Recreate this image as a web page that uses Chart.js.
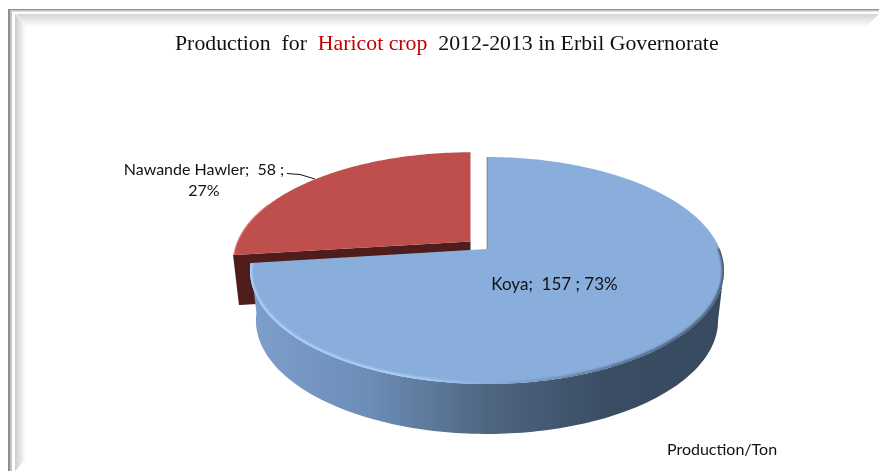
<!DOCTYPE html>
<html>
<head>
<meta charset="utf-8">
<style>
  html, body { margin: 0; padding: 0; background: #ffffff; overflow: hidden; }
  canvas { display: block; }
</style>
</head>
<body>
<canvas id="pie" width="879" height="471"></canvas>
<script src="https://cdn.jsdelivr.net/npm/chart.js@4"></script>
<script>
const categories = ['Koya', 'Nawande Hawler'];
const production = [157, 58];
const percents = ['73%', '27%'];
const titleParts = [
    ['Production  for  ', '#111111'],
    ['Haricot crop', '#c00000'],
    ['  2012-2013 in Erbil Governorate', '#111111']
];
const unitLabel = 'Production/Ton';

// perspective of the tilted pie, fitted to the picture
const view = { x: 487, y: 249, a: 109.4, b: 232.7, k: 0.1894, depth: 50, shrink: 0.975 };
const explode = [
    { dx: 0, dy: 0, sy: 1 },
    { dx: -16.5, dy: -7.5, sy: 0.97 }
];

function project(angle, i, bottom) {
    const e = explode[i];
    const u = Math.cos(angle);
    const v = Math.sin(angle);
    const d = 1 - view.k * v;
    const s = bottom ? view.shrink : 1;
    return {
        x: view.x + e.dx + s * view.b * u / d,
        y: view.y + e.dy + e.sy * view.a * v / d + (bottom ? view.depth : 0)
    };
}

function apex(i, bottom) {
    const e = explode[i];
    return { x: view.x + e.dx, y: view.y + e.dy + (bottom ? view.depth : 0) };
}

function arcPoints(start, end, i, bottom) {
    const pts = [];
    const n = Math.ceil(Math.abs(end - start) / 0.02);
    for (let j = 0; j <= n; j++) {
        pts.push(project(start + (end - start) * j / n, i, bottom));
    }
    return pts;
}

function tracePoly(ctx, pts) {
    ctx.beginPath();
    pts.forEach((p, j) => j ? ctx.lineTo(p.x, p.y) : ctx.moveTo(p.x, p.y));
}

function fillPoly(ctx, pts, fill) {
    tracePoly(ctx, pts);
    ctx.closePath();
    ctx.fillStyle = fill;
    ctx.fill();
}

function strokeLine(ctx, pts, style, width) {
    tracePoly(ctx, pts);
    ctx.strokeStyle = style;
    ctx.lineWidth = width;
    ctx.stroke();
}

function drawFrame(ctx) {
    ctx.fillStyle = '#8e8e8e';
    ctx.fillRect(8, 9, 871, 1.5);
    ctx.fillRect(8, 9, 2.5, 462);
    ctx.fillStyle = '#c4c4c4';
    ctx.fillRect(10.5, 10.5, 1.5, 460.5);
    ctx.fillRect(10.5, 10.5, 868.5, 1);

    const top = ctx.createLinearGradient(0, 14, 0, 27);
    top.addColorStop(0, '#d4d4d4');
    top.addColorStop(1, '#ffffff');
    fillPoly(ctx, [{ x: 16, y: 14 }, { x: 879, y: 14 }, { x: 866, y: 27 }, { x: 26, y: 27 }], top);

    const left = ctx.createLinearGradient(15, 0, 26, 0);
    left.addColorStop(0, '#cccccc');
    left.addColorStop(1, '#ffffff');
    fillPoly(ctx, [{ x: 15, y: 14 }, { x: 26, y: 26 }, { x: 26, y: 459 }, { x: 15, y: 471 }], left);
}

function drawPie(chart) {
    const ctx = chart.ctx;
    const arcs = chart.getDatasetMeta(0).data;
    const koya = arcs[0];
    const hawler = arcs[1];

    // red slice: cut wall first, then its top
    const redCorner = project(hawler.startAngle, 1, false);
    const redCornerLow = project(hawler.startAngle, 1, true);
    const dark = '#4f1d1c';
    ctx.save();
    ctx.lineJoin = 'round';
    fillPoly(ctx, [apex(1), redCorner, redCornerLow, apex(1, true)], dark);
    strokeLine(ctx, [redCorner, redCornerLow], dark, 2);
    ctx.restore();
    fillPoly(ctx, [apex(1)].concat(arcPoints(hawler.startAngle, hawler.endAngle, 1, false)), '#be4f4c');
    strokeLine(ctx, arcPoints(hawler.startAngle, hawler.startAngle + 0.5, 1, false), 'rgba(226,110,105,0.7)', 1.5);

    // blue slice: outer wall seen from the front
    const wallFrom = Math.asin(view.k);
    const wallTo = koya.endAngle;
    const wall = arcPoints(wallFrom, wallTo, 0, false).concat(arcPoints(wallTo, wallFrom, 0, true));
    const side = ctx.createLinearGradient(252, 0, 722, 0);
    side.addColorStop(0, '#7d9fcb');
    side.addColorStop(0.25, '#6c8db6');
    side.addColorStop(0.5, '#4f6682');
    side.addColorStop(0.75, '#3a4d63');
    side.addColorStop(1, '#384a5f');
    fillPoly(ctx, wall, side);

    // blue top
    const topFace = [apex(0)].concat(arcPoints(koya.startAngle, koya.endAngle, 0, false));
    fillPoly(ctx, topFace, '#8aaedc');

    // rim light along the front edge, kept inside the top face
    const rim = ctx.createLinearGradient(252, 0, 722, 0);
    rim.addColorStop(0, '#b0d6ff');
    rim.addColorStop(0.35, '#acd2fb');
    rim.addColorStop(0.5, '#8aaedc');
    rim.addColorStop(0.8, '#4e6986');
    rim.addColorStop(1, '#3f5369');
    ctx.save();
    tracePoly(ctx, topFace);
    ctx.closePath();
    ctx.clip();
    ctx.filter = 'blur(1px)';
    strokeLine(ctx, arcPoints(wallFrom - 0.2, wallTo, 0, false), rim, 4);
    ctx.restore();

    // thin shade on the cut next to the gap
    strokeLine(ctx, [project(koya.startAngle, 0, false), apex(0)], 'rgba(70,80,95,0.55)', 1);
}

function drawTexts(chart) {
    const ctx = chart.ctx;
    ctx.save();
    ctx.textBaseline = 'alphabetic';

    ctx.font = '21.8px "Liberation Serif"';
    let x = 175;
    titleParts.forEach(part => {
        ctx.fillStyle = part[1];
        ctx.fillText(part[0], x, 50);
        x += ctx.measureText(part[0]).width;
    });

    ctx.fillStyle = '#111111';
    ctx.font = '17px Lato';
    ctx.textAlign = 'center';
    ctx.fillText(categories[0] + ';  ' + production[0] + ' ; ' + percents[0], 554.5, 290);

    ctx.font = '16px Lato';
    ctx.fillText(categories[1] + ';  ' + production[1] + ' ;', 204, 175);
    ctx.fillText(percents[1], 204, 196);
    ctx.fillText(unitLabel, 722, 455);
    ctx.restore();

    strokeLine(ctx, [{ x: 287, y: 173.5 }, { x: 300, y: 174.5 }, { x: 315, y: 179 }], '#111111', 1);
}

const piePlugin = {
    id: 'tiltedPie',
    beforeDraw(chart) {
        drawFrame(chart.ctx);
    },
    beforeDatasetsDraw(chart) {
        drawPie(chart);
        return false;
    },
    afterDraw(chart) {
        drawTexts(chart);
    }
};

new Chart(document.getElementById('pie'), {
    type: 'pie',
    data: {
        labels: categories,
        datasets: [{
            label: unitLabel,
            data: production,
            backgroundColor: ['#8aaedc', '#be4f4c'],
            borderWidth: 0
        }]
    },
    options: {
        responsive: false,
        animation: false,
        plugins: {
            legend: { display: false },
            tooltip: { enabled: false }
        }
    },
    plugins: [piePlugin]
});
</script>
</body>
</html>
